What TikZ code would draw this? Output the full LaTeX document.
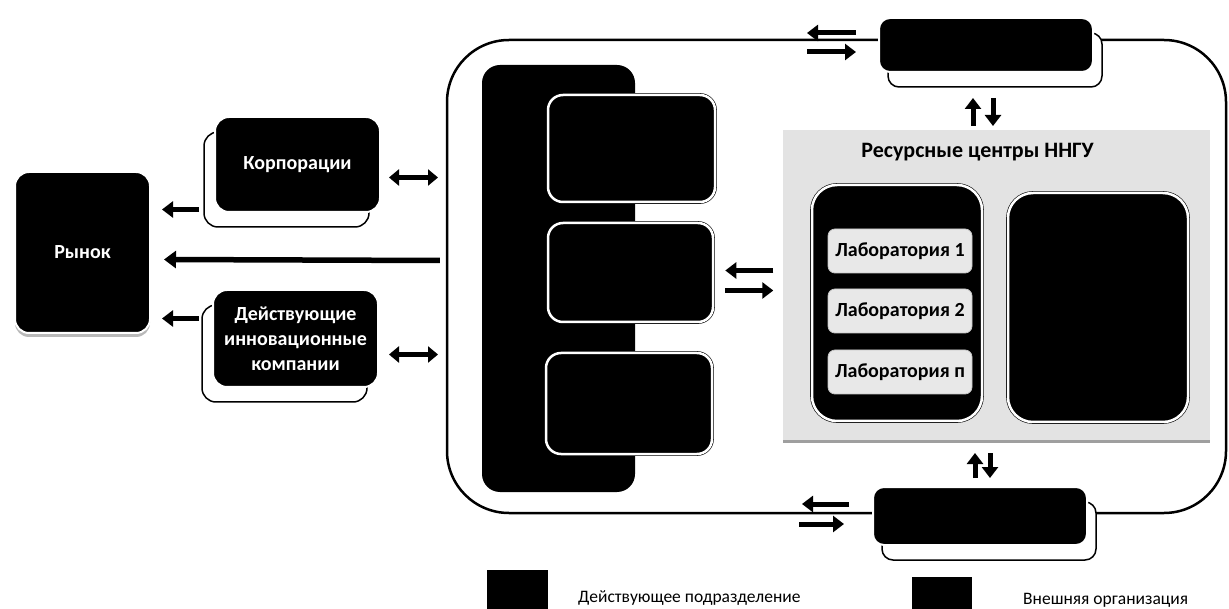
\documentclass[tikz,border=0pt]{standalone}
\usepackage{fontspec}
\setmainfont{Carlito}
\usetikzlibrary{arrows.meta,shadows,positioning}

\begin{document}
\begin{tikzpicture}[x=1pt,y=1pt,yscale=-1,xscale=1]
  \useasboundingbox (0,0) rectangle (1229,609);
  \tikzstyle{fatarrow} = [line width=5pt,-{Triangle[length=11pt,width=16pt]}]
  \tikzstyle{bigarrow} = [line width=5.5pt,-{Triangle[length=12pt,width=17pt]}]
  \tikzstyle{dblarrow} = [line width=5pt,{Triangle[length=10pt,width=16pt]}-{Triangle[length=10pt,width=16pt]}]
  \tikzstyle{blackbox} = [rounded corners=14pt,fill=black,draw=white,line width=2pt,text=white,font=\fontsize{20}{25}\selectfont\bfseries,align=center,inner sep=0pt]
  \tikzstyle{mktbox} = [blackbox,copy shadow={shadow xshift=0pt,shadow yshift=-4pt,fill=gray!55,draw=none}]
  \tikzstyle{stackbox} = [blackbox,copy shadow={shadow xshift=-11pt,shadow yshift=-15pt,fill=white,draw=black,line width=1.5pt}]
  \tikzstyle{extbox} = [blackbox,rounded corners=11pt,copy shadow={shadow xshift=9pt,shadow yshift=-15pt,fill=white,draw=black,line width=1.5pt}]
  \tikzstyle{unitbox} = [rounded corners=15pt,fill=black,draw=black,line width=0.6pt,double=white,double distance=2.5pt,inner sep=0pt]
  \tikzstyle{labbox} = [rounded corners=7pt,fill=gray!18,draw=gray!45,line width=0.8pt,minimum width=144pt,minimum height=44pt,inner sep=0pt,font=\fontsize{20}{22}\selectfont\bfseries]
  \tikzstyle{legsq} = [fill=black,inner sep=0pt]
  \tikzstyle{legtext} = [anchor=west,inner sep=0pt,font=\fontsize{17.5}{20}\selectfont]

  %Draw the university outline
  \draw[line width=2.5pt,rounded corners=62pt] (447,40) rectangle (1226,513);

  %Draw the market and its partners
  \node[mktbox,minimum width=135pt,minimum height=161pt] (rynok) at (82.5,252.5) {Рынок};
  \node[stackbox,minimum width=165pt,minimum height=95pt] (korp) at (297.5,164.5) {Корпорации};
  \node[stackbox,minimum width=165pt,minimum height=97pt] (dik) at (295.5,338.5) {Действующие\\инновационные\\компании};

  %Draw the column of units
  \node[fill=black,rounded corners=18pt,minimum width=153pt,minimum height=427pt] (col) at (558.5,278.5) {};
  \node[unitbox,minimum width=167pt,minimum height=107pt] (unitA) at (631.5,148.5) {};
  \node[unitbox,minimum width=165pt,minimum height=99pt] (unitB) at (630.5,272.5) {};
  \node[unitbox,minimum width=166pt,minimum height=101pt] (unitC) at (629,403.5) {};

  %Draw the resource centres
  \node[fill=gray!22,minimum width=427pt,minimum height=310pt,copy shadow={shadow xshift=0pt,shadow yshift=-3pt,fill=gray!75,draw=none}] (rc) at (996.5,285) {};
  \node[font=\fontsize{22}{26}\selectfont\bfseries] (rctitle) at (977.5,152) {Ресурсные центры ННГУ};
  \node[unitbox,rounded corners=25pt,minimum width=170pt,minimum height=236pt] (labs) at (897,303) {};
  \node[unitbox,rounded corners=25pt,minimum width=180pt,minimum height=229pt] (equip) at (1098,307.5) {};
  \node[labbox] (labA) at (900,251) {Лаборатория 1};
  \node[labbox] (labB) at (900,311) {Лаборатория 2};
  \node[labbox] (labN) at (900,372) {Лаборатория п};

  %Draw the outside organisations
  \node[extbox,minimum width=214pt,minimum height=54pt] (topext) at (986,45) {};
  \node[extbox,minimum width=214pt,minimum height=58pt] (botext) at (980,516) {};

  % Draw the arrows to the market
  \draw[fatarrow] ([xshift=-15pt,yshift=45pt]korp.west) -- ++(-37,0);
  \draw[bigarrow] ([xshift=-42pt,yshift=-18pt]col.west) -- ([xshift=13pt,yshift=7pt]rynok.east);
  \draw[fatarrow] ([xshift=-13pt,yshift=-20pt]dik.west) -- ++(-37,0);
  \draw[dblarrow] ([xshift=8pt,yshift=13pt]korp.east) -- ++(49,0);
  \draw[dblarrow] ([xshift=10pt,yshift=16pt]dik.east) -- ++(49,0);

  % Draw the arrows inside
  \draw[fatarrow] ([xshift=60pt,yshift=-2pt]unitB.east) -- ++(-48,0);
  \draw[fatarrow] ([xshift=12pt,yshift=18pt]unitB.east) -- ++(48,0);
  \draw[fatarrow] ([xshift=-22pt,yshift=-12pt]topext.west) -- ++(-49,0);
  \draw[fatarrow] ([xshift=-71pt,yshift=7pt]topext.west) -- ++(49,0);
  \draw[fatarrow] ([xshift=-23pt,yshift=-12pt]botext.west) -- ++(-47,0);
  \draw[fatarrow] ([xshift=-73pt,yshift=8pt]botext.west) -- ++(45,0);
  \draw[fatarrow] ([xshift=-13pt,yshift=53pt]topext.south) -- ++(0,-28);
  \draw[fatarrow] ([xshift=7pt,yshift=25pt]topext.south) -- ++(0,28);
  \draw[fatarrow] ([xshift=-5pt,yshift=-8pt]botext.north) -- ++(0,-25);
  \draw[fatarrow] ([xshift=10pt,yshift=-33pt]botext.north) -- ++(0,25);

  % Label the legend
  \node[legsq,minimum width=61pt,minimum height=39pt] (legunit) at (517.5,589.5) {};
  \node[legtext] (legunittxt) at (578,598) {Действующее подразделение};
  \node[legsq,minimum width=60pt,minimum height=32pt] (legext) at (942,593) {};
  \node[legtext] (legexttxt) at (1023,600) {Внешняя организация};
\end{tikzpicture}
\end{document}
